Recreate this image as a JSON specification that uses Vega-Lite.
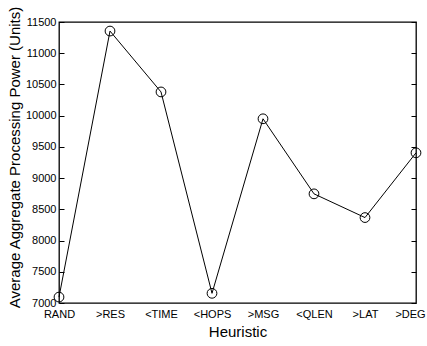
{
  "$schema": "https://vega.github.io/schema/vega-lite/v6.json",
  "width": 357,
  "height": 281,
  "autosize": {"type": "none"},
  "padding": {"left": 59, "top": 22, "right": 11, "bottom": 43},
  "background": "white",
  "config": {
    "font": "Liberation Sans",
    "view": {"stroke": "black", "strokeWidth": 1.3},
    "axis": {"grid": false, "domain": false, "labelFont": "Liberation Sans", "titleFont": "Liberation Sans", "labelColor": "black", "titleColor": "black", "tickColor": "black", "titleFontWeight": "normal"}
  },
  "data": {"values": [
    {"h": "RAND", "v": 7095},
    {"h": ">RES", "v": 11355},
    {"h": "<TIME", "v": 10380},
    {"h": "<HOPS", "v": 7155},
    {"h": ">MSG", "v": 9950},
    {"h": "<QLEN", "v": 8748},
    {"h": ">LAT", "v": 8368},
    {"h": ">DEG", "v": 9405}
  ]},
  "encoding": {
    "x": {"field": "h", "type": "ordinal", "sort": null,
      "scale": {"type": "point", "padding": 0},
      "axis": {"title": "Heuristic", "labelAngle": 0, "ticks": false, "labelPadding": 5, "labelFontSize": 11, "titleFontSize": 15, "titlePadding": 5,
        "labelOffset": {"condition": {"test": "datum.label == '>DEG'", "value": -6}, "value": 0}}},
    "y": {"field": "v", "type": "quantitative",
      "scale": {"domain": [7000, 11500], "nice": false, "zero": false}}
  },
  "layer": [
    {"mark": {"type": "line", "color": "black", "strokeWidth": 1},
     "encoding": {"y": {"field": "v", "type": "quantitative", "scale": {"domain": [7000, 11500], "nice": false, "zero": false},
       "axis": {"title": "Average Aggregate Processing Power (Units)", "format": "d", "values": [7000,7500,8000,8500,9000,9500,10000,10500,11000,11500], "tickSize": -5, "labelPadding": 8, "labelFontSize": 11, "titleFontSize": 15, "titlePadding": 3, "titleY": 135}}}},
    {"mark": {"type": "point", "shape": "circle", "filled": false, "color": "black", "size": 95, "strokeWidth": 1, "opacity": 1},
     "encoding": {"y": {"field": "v", "type": "quantitative", "scale": {"domain": [7000, 11500], "nice": false, "zero": false},
       "axis": {"orient": "right", "title": null, "labels": false, "values": [7000,7500,8000,8500,9000,9500,10000,10500,11000,11500], "tickSize": -5}}}}
  ],
  "resolve": {"axis": {"y": "independent"}}
}
